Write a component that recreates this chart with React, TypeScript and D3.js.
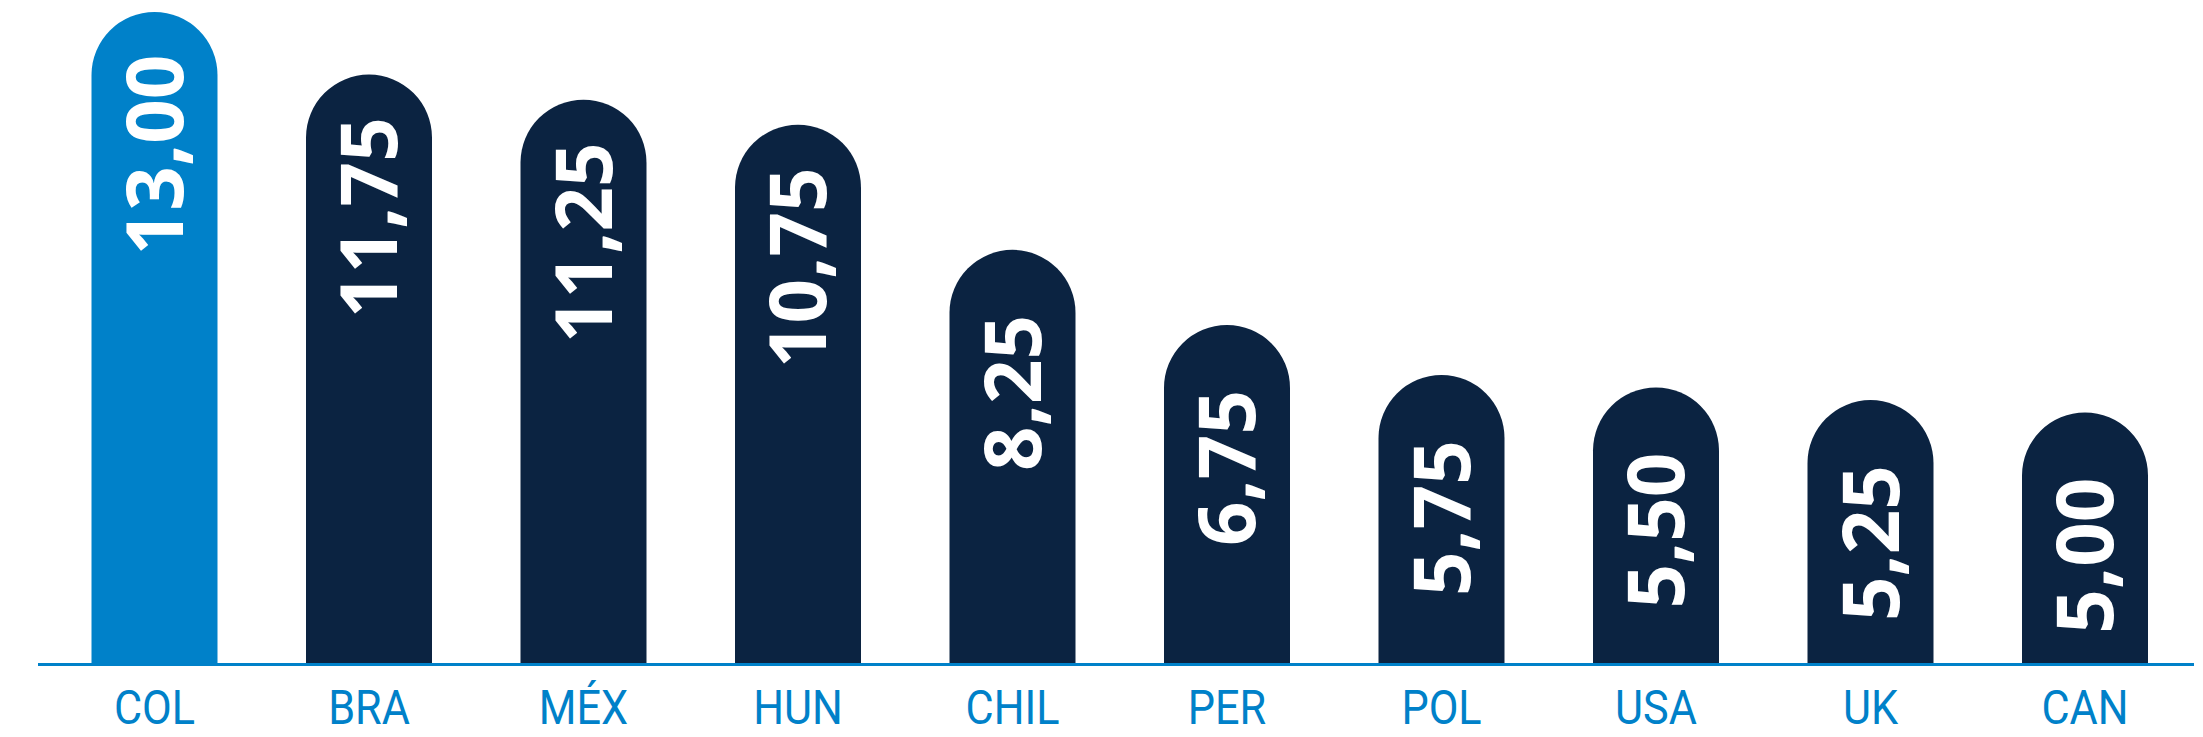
import React from "react";
import * as d3 from "d3";

const categories: string[] = ["COL", "BRA", "MÉX", "HUN", "CHIL", "PER", "POL", "USA", "UK", "CAN"];
const values: number[] = [13.0, 11.75, 11.25, 10.75, 8.25, 6.75, 5.75, 5.5, 5.25, 5.0];
const highlight: string[] = ["COL"];

const W = 2203;
const H = 737;
const BLUE = "#0081C9";
const NAVY = "#0B2341";

export default function App() {
  const x = d3
    .scaleBand<string>()
    .domain(categories)
    .range([47.25, 2192.25])
    .paddingInner(0.4126)
    .paddingOuter(0.2063);
  const y = d3.scaleLinear().domain([0, 13]).range([663, 12]);
  const bw = x.bandwidth();
  const r = bw / 2;
  const fmt = (v: number) => d3.format(".2f")(v).replace(".", ",");

  const barPath = (x0: number, top: number, bottom: number) => {
    const p = d3.path();
    p.moveTo(x0, bottom);
    p.lineTo(x0, top + r);
    p.arc(x0 + r, top + r, r, Math.PI, 0);
    p.lineTo(x0 + bw, bottom);
    p.closePath();
    return p.toString();
  };

  return (
    <svg
      width={W}
      height={H}
      viewBox={`0 0 ${W} ${H}`}
      style={{ position: "absolute", left: 0, top: 0, display: "block", background: "#fff" }}
    >
      {categories.map((c, i) => {
        const x0 = x(c)!;
        const top = y(values[i]);
        const cx = x0 + bw / 2;
        return (
          <g key={c}>
            <path d={barPath(x0, top, y(0))} fill={highlight.includes(c) ? BLUE : NAVY} />
            <text
              transform={`translate(${cx + 28},${top + 143}) rotate(-90)`}
              textAnchor="middle"
              fill="#fff"
              fontFamily="'Open Sans', sans-serif"
              fontWeight={700}
              fontSize={78}
            >
              {fmt(values[i])}
            </text>
            <text
              transform={`translate(${cx},724) scale(0.9,1)`}
              textAnchor="middle"
              fill={BLUE}
              fontFamily="Roboto, sans-serif"
              fontWeight={400}
              fontSize={48}
            >
              {c}
            </text>
          </g>
        );
      })}
      <line x1={38} x2={2194} y1={664.5} y2={664.5} stroke={BLUE} strokeWidth={3} />
    </svg>
  );
}
